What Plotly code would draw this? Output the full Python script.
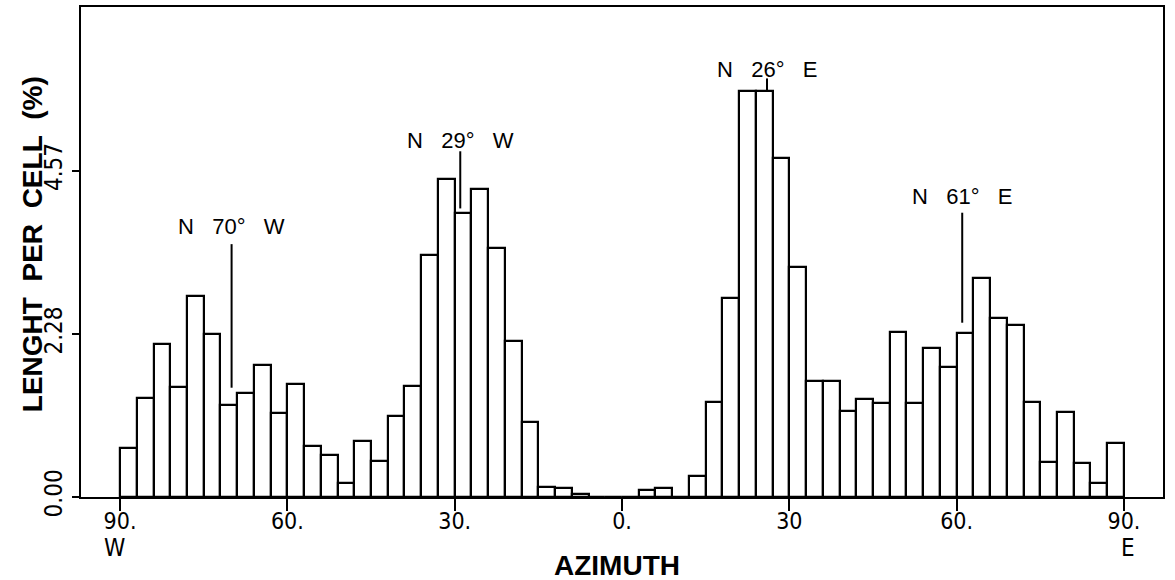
import plotly.graph_objects as go

# 3-degree azimuth cells from 90 W (-90) to 90 E (+90)
bin_left = list(range(-90, 90, 3))
lengths = [
    0.69, 1.38, 2.14, 1.54, 2.81, 2.28, 1.29, 1.45, 1.85, 1.18,
    1.58, 0.71, 0.59, 0.20, 0.79, 0.50, 1.14, 1.55, 3.39, 4.45,
    3.97, 4.31, 3.49, 2.19, 1.05, 0.14, 0.12, 0.04, 0.00, 0.00,
    0.00, 0.10, 0.12, 0.00, 0.29, 1.33, 2.79, 5.68, 5.68, 4.75,
    3.22, 1.63, 1.62, 1.20, 1.37, 1.32, 2.31, 1.31, 2.09, 1.82,
    2.29, 3.07, 2.51, 2.41, 1.33, 0.49, 1.19, 0.47, 0.20, 0.75,
]
bin_width = 3

x_tickvals = [-90, -60, -30, 0, 30, 60, 90]
x_ticktext = ["90.", "60.", "30.", "0.", "30", "60.", "90."]
y_tickvals = [0.0, 2.28, 4.57]
y_ticktext = ["0.00", "2.28", "4.57"]

peak_labels = ["N 70° W", "N 29° W", "N 26° E", "N 61° E"]
peak_az = [-70, -29, 26, 61]
peak_line_low = [1.53, 4.04, 5.68, 2.44]
peak_line_high = [3.54, 4.84, 5.86, 3.98]
peak_label_y = [3.79, 4.99, 5.98, 4.21]

NS = "\u00a0"
thin_font = "Liberation Sans Narrow, DejaVu Sans Condensed, Arial Narrow, Liberation Sans, sans-serif"
bold_font = "Liberation Sans, Arial, sans-serif"

centers = [b + bin_width / 2 for b in bin_left]

fig = go.Figure()
fig.add_trace(go.Bar(
    x=centers, y=lengths, width=bin_width,
    marker=dict(color="white", line=dict(color="black", width=2.2)),
    hoverinfo="x+y",
))

for lab, az, lo, hi, ly in zip(peak_labels, peak_az, peak_line_low, peak_line_high, peak_label_y):
    fig.add_shape(type="line", xref="x", yref="y", x0=az, x1=az, y0=lo, y1=hi,
                  line=dict(color="black", width=2))
    txt = lab.replace(" ", NS * 3)
    fig.add_annotation(x=az, y=ly, xref="x", yref="y", text=txt, showarrow=False,
                       font=dict(family=bold_font, size=22, color="black"),
                       xanchor="center", yanchor="middle")

# W / E labels under the axis ends
fig.add_annotation(x=-90, y=-0.104, xref="x", yref="paper", text="W", showarrow=False,
                   font=dict(family=thin_font, size=24, color="black"),
                   xanchor="center", yanchor="middle", xshift=-6)
fig.add_annotation(x=90, y=-0.104, xref="x", yref="paper", text="E", showarrow=False,
                   font=dict(family=thin_font, size=24, color="black"),
                   xanchor="center", yanchor="middle", xshift=4)
# Axis titles
fig.add_annotation(x=0, y=-0.140, xref="x", yref="paper", text="AZIMUTH", showarrow=False,
                   font=dict(family=bold_font, size=28, color="black", weight="bold"),
                   xanchor="center", yanchor="middle", xshift=-5)
fig.add_annotation(x=0, y=0.516, xref="paper", yref="paper",
                   text="LENGHT PER CELL (%)".replace(" ", NS + NS),
                   textangle=-90, showarrow=False,
                   font=dict(family=bold_font, size=28, color="black", weight="bold"),
                   xanchor="center", yanchor="middle", xshift=-49)

fig.update_layout(
    width=1175, height=580,
    margin=dict(l=81, r=12, t=5, b=83),
    paper_bgcolor="white", plot_bgcolor="white",
    showlegend=False, bargap=0,
    xaxis=dict(range=[-97, 97], tickvals=x_tickvals, ticktext=x_ticktext,
               showgrid=False, zeroline=False, showline=True, linecolor="black",
               linewidth=2, mirror=True, ticks="outside", ticklen=12, tickwidth=2,
               tickcolor="black", ticklabelstandoff=-10,
               tickfont=dict(family=thin_font, size=23, color="black")),
    yaxis=dict(range=[0, 6.86], tickvals=y_tickvals, ticktext=y_ticktext,
               showgrid=False, zeroline=False, showline=True, linecolor="black",
               linewidth=2, mirror=True, ticks="outside", ticklen=7, tickwidth=2,
               tickcolor="black", tickangle=-90,
               tickfont=dict(family=thin_font, size=24, color="black")),
)

fig.write_html("out.html", config={"displayModeBar": False},
               post_script="document.body.style.margin='0px';document.body.style.overflow='hidden';")
